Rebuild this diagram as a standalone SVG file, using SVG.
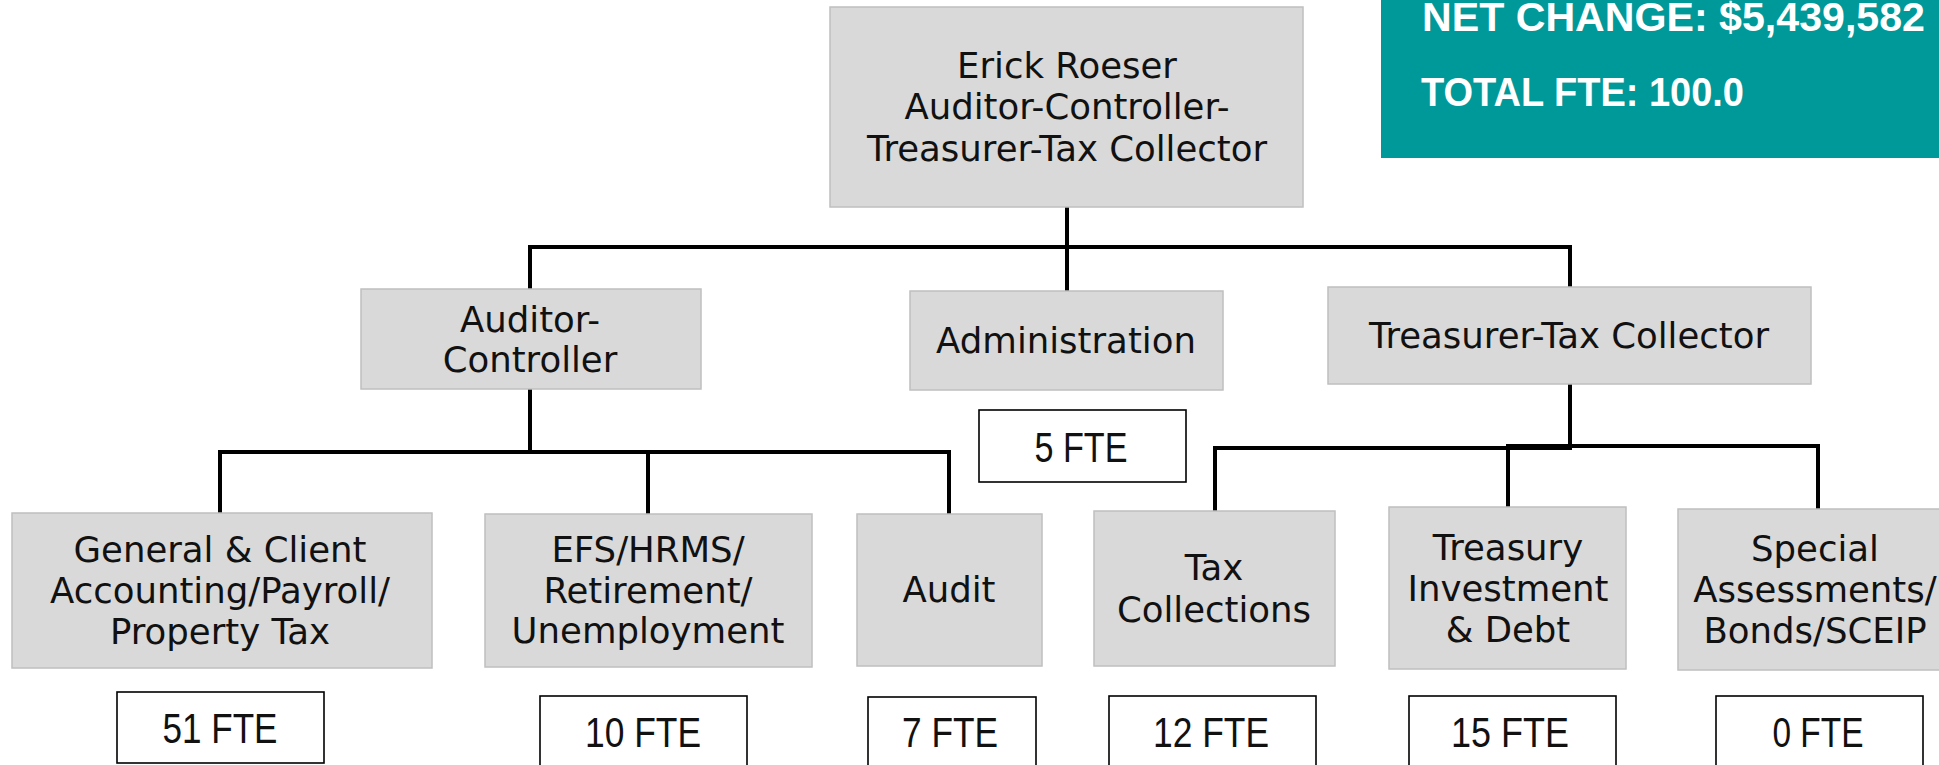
<svg xmlns="http://www.w3.org/2000/svg" width="1939" height="765" viewBox="0 0 1939 765">
  <style>
    .unit { fill: #D9D9D9; stroke: #BFBFBF; stroke-width: 1.5; }
    .fte { fill: #FFFFFF; stroke: #000000; stroke-width: 1.6; }
    .lbl { font-family: "DejaVu Sans", "Liberation Sans", sans-serif; font-size: 35.5px; fill: #111111; text-anchor: middle; }
    .num { font-family: "Liberation Sans", "DejaVu Sans", sans-serif; font-size: 42px; fill: #111111; text-anchor: middle; }
    .sum { font-family: "Liberation Sans", "DejaVu Sans", sans-serif; font-size: 40px; font-weight: bold; fill: #FFFFFF; }
    .wire { fill: none; stroke: #000000; stroke-width: 4; stroke-linejoin: miter; stroke-linecap: butt; }
  </style>

  <rect width="1939" height="765" fill="#FFFFFF"/>

  <!-- summary panel -->
  <g id="summary">
    <rect x="1381" y="0" width="558" height="158" fill="#00999A"/>
    <text class="sum" x="1422" y="31" textLength="503" lengthAdjust="spacingAndGlyphs">NET CHANGE: $5,439,582</text>
    <text class="sum" x="1421" y="106" textLength="323" lengthAdjust="spacingAndGlyphs">TOTAL FTE: 100.0</text>
  </g>

  <!-- reporting lines -->
  <g id="connectors" class="wire">
    <path d="M1067 207 V291"/>
    <path d="M528 247 H1572"/>
    <path d="M530 247 V289"/>
    <path d="M1570 247 V287"/>
    <path d="M530 389 V452"/>
    <path d="M220 514 V452 H951"/>
    <path d="M648 452 V514"/>
    <path d="M949 452 V514"/>
    <path d="M1570 384 V448"/>
    <path d="M1215 511 V448 H1572"/>
    <path d="M1508 507 V446 H1818 V509"/>
  </g>

  <g id="head">
    <rect class="unit" x="830" y="7" width="473" height="200"/>
    <text class="lbl" x="1067" y="78">Erick Roeser</text>
    <text class="lbl" x="1067" y="119">Auditor-Controller-</text>
    <text class="lbl" x="1067" y="161">Treasurer-Tax Collector</text>
  </g>

  <g id="auditor-controller">
    <rect class="unit" x="361" y="289" width="340" height="100"/>
    <text class="lbl" x="530" y="332">Auditor-</text>
    <text class="lbl" x="530" y="372">Controller</text>
  </g>

  <g id="administration">
    <rect class="unit" x="910" y="291" width="313" height="99"/>
    <text class="lbl" x="1066" y="353">Administration</text>
    <rect class="fte" x="979" y="410" width="207" height="72"/>
    <text class="num" x="1081" y="462" textLength="93" lengthAdjust="spacingAndGlyphs">5 FTE</text>
  </g>

  <g id="treasurer-tax-collector">
    <rect class="unit" x="1328" y="287" width="483" height="97"/>
    <text class="lbl" x="1569" y="348">Treasurer-Tax Collector</text>
  </g>

  <g id="general-client-accounting">
    <rect class="unit" x="12" y="513" width="420" height="155"/>
    <text class="lbl" x="220" y="562">General &amp; Client</text>
    <text class="lbl" x="220" y="603">Accounting/Payroll/</text>
    <text class="lbl" x="220" y="644">Property Tax</text>
    <rect class="fte" x="117" y="692" width="207" height="71"/>
    <text class="num" x="220" y="743" textLength="115" lengthAdjust="spacingAndGlyphs">51 FTE</text>
  </g>

  <g id="efs-hrms">
    <rect class="unit" x="485" y="514" width="327" height="153"/>
    <text class="lbl" x="648" y="562">EFS/HRMS/</text>
    <text class="lbl" x="648" y="603">Retirement/</text>
    <text class="lbl" x="648" y="643">Unemployment</text>
    <rect class="fte" x="540" y="696" width="207" height="80"/>
    <text class="num" x="643" y="747" textLength="116" lengthAdjust="spacingAndGlyphs">10 FTE</text>
  </g>

  <g id="audit">
    <rect class="unit" x="857" y="514" width="185" height="152"/>
    <text class="lbl" x="949" y="602">Audit</text>
    <rect class="fte" x="868" y="697" width="168" height="80"/>
    <text class="num" x="950" y="747" textLength="96" lengthAdjust="spacingAndGlyphs">7 FTE</text>
  </g>

  <g id="tax-collections">
    <rect class="unit" x="1094" y="511" width="241" height="155"/>
    <text class="lbl" x="1214" y="580">Tax</text>
    <text class="lbl" x="1214" y="622">Collections</text>
    <rect class="fte" x="1109" y="696" width="207" height="80"/>
    <text class="num" x="1211" y="747" textLength="116" lengthAdjust="spacingAndGlyphs">12 FTE</text>
  </g>

  <g id="treasury-investment">
    <rect class="unit" x="1389" y="507" width="237" height="162"/>
    <text class="lbl" x="1508" y="560">Treasury</text>
    <text class="lbl" x="1508" y="601">Investment</text>
    <text class="lbl" x="1508" y="642">&amp; Debt</text>
    <rect class="fte" x="1409" y="696" width="207" height="80"/>
    <text class="num" x="1510" y="747" textLength="118" lengthAdjust="spacingAndGlyphs">15 FTE</text>
  </g>

  <g id="special-assessments">
    <rect class="unit" x="1678" y="509" width="280" height="161"/>
    <text class="lbl" x="1815" y="561">Special</text>
    <text class="lbl" x="1815" y="602">Assessments/</text>
    <text class="lbl" x="1815" y="643">Bonds/SCEIP</text>
    <rect class="fte" x="1716" y="696" width="207" height="80"/>
    <text class="num" x="1818" y="747" textLength="91" lengthAdjust="spacingAndGlyphs">0 FTE</text>
  </g>
</svg>
